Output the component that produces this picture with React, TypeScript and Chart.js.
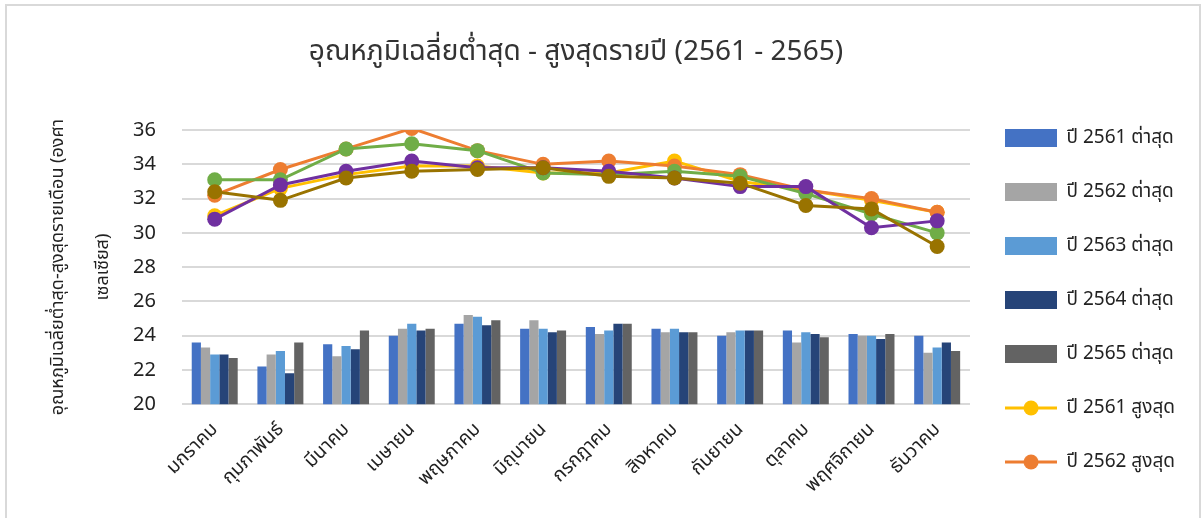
import React, { useEffect, useRef } from 'react';
import { Chart, registerables } from 'chart.js';

Chart.register(...registerables);

const months = ['มกราคม', 'กุมภาพันธ์', 'มีนาคม', 'เมษายน', 'พฤษภาคม', 'มิถุนายน', 'กรกฎาคม', 'สิงหาคม', 'กันยายน', 'ตุลาคม', 'พฤศจิกายน', 'ธันวาคม'];

const min2561 = [23.6, 22.2, 23.5, 24.0, 24.7, 24.4, 24.5, 24.4, 24.0, 24.3, 24.1, 24.0];
const min2562 = [23.3, 22.9, 22.8, 24.4, 25.2, 24.9, 24.1, 24.2, 24.2, 23.6, 24.0, 23.0];
const min2563 = [22.9, 23.1, 23.4, 24.7, 25.1, 24.4, 24.3, 24.4, 24.3, 24.2, 24.0, 23.3];
const min2564 = [22.9, 21.8, 23.2, 24.3, 24.6, 24.2, 24.7, 24.2, 24.3, 24.1, 23.8, 23.6];
const min2565 = [22.7, 23.6, 24.3, 24.4, 24.9, 24.3, 24.7, 24.2, 24.3, 23.9, 24.1, 23.1];

const max2561 = [31.0, 32.6, 33.4, 33.9, 33.9, 33.5, 33.5, 34.2, 33.0, 32.5, 31.9, 31.2];
const max2562 = [32.2, 33.7, 34.9, 36.1, 34.8, 34.0, 34.2, 33.9, 33.4, 32.5, 32.0, 31.2];
const max2563 = [33.1, 33.1, 34.9, 35.2, 34.8, 33.5, 33.4, 33.6, 33.3, 32.3, 31.1, 30.0];
const max2564 = [30.8, 32.8, 33.6, 34.2, 33.8, 33.8, 33.6, 33.2, 32.7, 32.7, 30.3, 30.7];
const max2565 = [32.4, 31.9, 33.2, 33.6, 33.7, 33.8, 33.3, 33.2, 32.9, 31.6, 31.4, 29.2];

const barLabels = ['ปี 2561 ต่าสุด', 'ปี 2562 ต่าสุด', 'ปี 2563 ต่าสุด', 'ปี 2564 ต่าสุด', 'ปี 2565 ต่าสุด'];
const lineLabels = ['ปี 2561 สูงสุด', 'ปี 2562 สูงสุด', 'ปี 2563 สูงสุด', 'ปี 2564 สูงสุด', 'ปี 2565 สูงสุด'];
const barColors = ['#4472C4', '#A5A5A5', '#5B9BD5', '#264478', '#636363'];
const lineColors = ['#FFC000', '#ED7D31', '#70AD47', '#7030A0', '#997300'];

const titleText = 'อุณหภูมิเฉลี่ยต่ำสุด - สูงสุดรายปี (2561 - 2565)';
const yTitle = ['อุณหภูมิเฉลี่ยต่ำสุด-สูงสุดรายเดือน (องศา', 'เซลเซียส)'];
const yMin = 20;
const yMax = 36;
const yStep = 2;
const legendShown = 7;

const FONT = "'Noto Sans', 'Noto Sans Thai', sans-serif";

function makeBarIcon(color: string) {
  const c = document.createElement('canvas');
  c.width = 52; c.height = 18;
  const x = c.getContext('2d')!;
  x.fillStyle = color;
  x.fillRect(0, 0, 52, 18);
  return c;
}
function makeLineIcon(color: string) {
  const c = document.createElement('canvas');
  c.width = 52; c.height = 18;
  const x = c.getContext('2d')!;
  x.strokeStyle = color;
  x.lineWidth = 3;
  x.beginPath(); x.moveTo(0, 9); x.lineTo(52, 9); x.stroke();
  x.fillStyle = color;
  x.beginPath(); x.arc(26, 9, 7.5, 0, Math.PI * 2); x.fill();
  return c;
}

export default function App() {
  const ref = useRef<HTMLCanvasElement>(null);
  useEffect(() => {
    if (!ref.current) return;
    const mins = [min2561, min2562, min2563, min2564, min2565];
    const maxs = [max2561, max2562, max2563, max2564, max2565];
    const icons = [...barColors.map(makeBarIcon), ...lineColors.map(makeLineIcon)];
    const datasets: any[] = [
      ...mins.map((d, i) => ({
        type: 'bar', label: barLabels[i], data: d, backgroundColor: barColors[i],
        borderWidth: 0, categoryPercentage: 0.7, barPercentage: 1.0, order: 100 + i,
      })),
      ...maxs.map((d, i) => ({
        type: 'line', label: lineLabels[i], data: d, borderColor: lineColors[i], backgroundColor: lineColors[i],
        borderWidth: 3, pointRadius: 7.5, pointHoverRadius: 7.5, pointBorderWidth: 0, tension: 0, order: 10 - i,
      })),
    ];
    const chart = new Chart(ref.current, {
      type: 'bar',
      data: { labels: months, datasets },
      options: {
        responsive: false,
        animation: false,
        layout: { padding: { left: 20, right: 17, top: 0, bottom: 0 } },
        plugins: {
          tooltip: { enabled: false },
          title: {
            display: true, text: titleText, fullSize: false, color: '#333',
            font: { family: FONT, size: 28, weight: 'normal' },
            padding: { top: 35, bottom: 61.5 },
          },
          legend: {
            position: 'right',
            align: 'start',
            title: { display: true, text: ' ', font: { size: 10 }, padding: { top: 81.5, bottom: 0 } },
            labels: {
              usePointStyle: true,
              pointStyleWidth: 52,
              padding: 35,
              color: '#222',
              font: { family: FONT, size: 19 },
              generateLabels: (ch: any) => {
                const items = Chart.defaults.plugins.legend.labels.generateLabels(ch);
                items.forEach((it: any) => { it.pointStyle = icons[it.datasetIndex]; });
                return items;
              },
              sort: (a: any, b: any) => a.datasetIndex - b.datasetIndex,
              filter: (it: any) => it.datasetIndex < legendShown,
            },
          },
        },
        scales: {
          x: {
            grid: { display: false },
            border: { display: false },
            ticks: { color: '#222', font: { family: FONT, size: 19 }, maxRotation: 45, minRotation: 45, padding: 6 },
            afterFit: (scale: any) => { scale.height += 15; },
          },
          y: {
            min: yMin, max: yMax,
            ticks: { stepSize: yStep, color: '#222', font: { family: FONT, size: 20 }, padding: 26 },
            grid: { color: '#d9d9d9', lineWidth: 2, drawTicks: false },
            border: { display: false },
            title: {
              display: true, text: yTitle, color: '#222',
              font: { family: FONT, size: 18, lineHeight: 2.5 },
              padding: { top: 15, bottom: -18 },
            },
          },
        },
      } as any,
    });
    return () => chart.destroy();
  }, []);
  return (
    <div style={{ position: 'absolute', left: 0, top: 0, width: 1202, height: 518, overflow: 'hidden', background: '#fff' }}>
      <div style={{ position: 'absolute', left: 5, top: 4, width: 1196, height: 700, boxSizing: 'border-box', border: '2px solid #d9d9d9' }} />
      <canvas ref={ref} width={1202} height={518} style={{ position: 'absolute', left: 0, top: 0 }} />
    </div>
  );
}
